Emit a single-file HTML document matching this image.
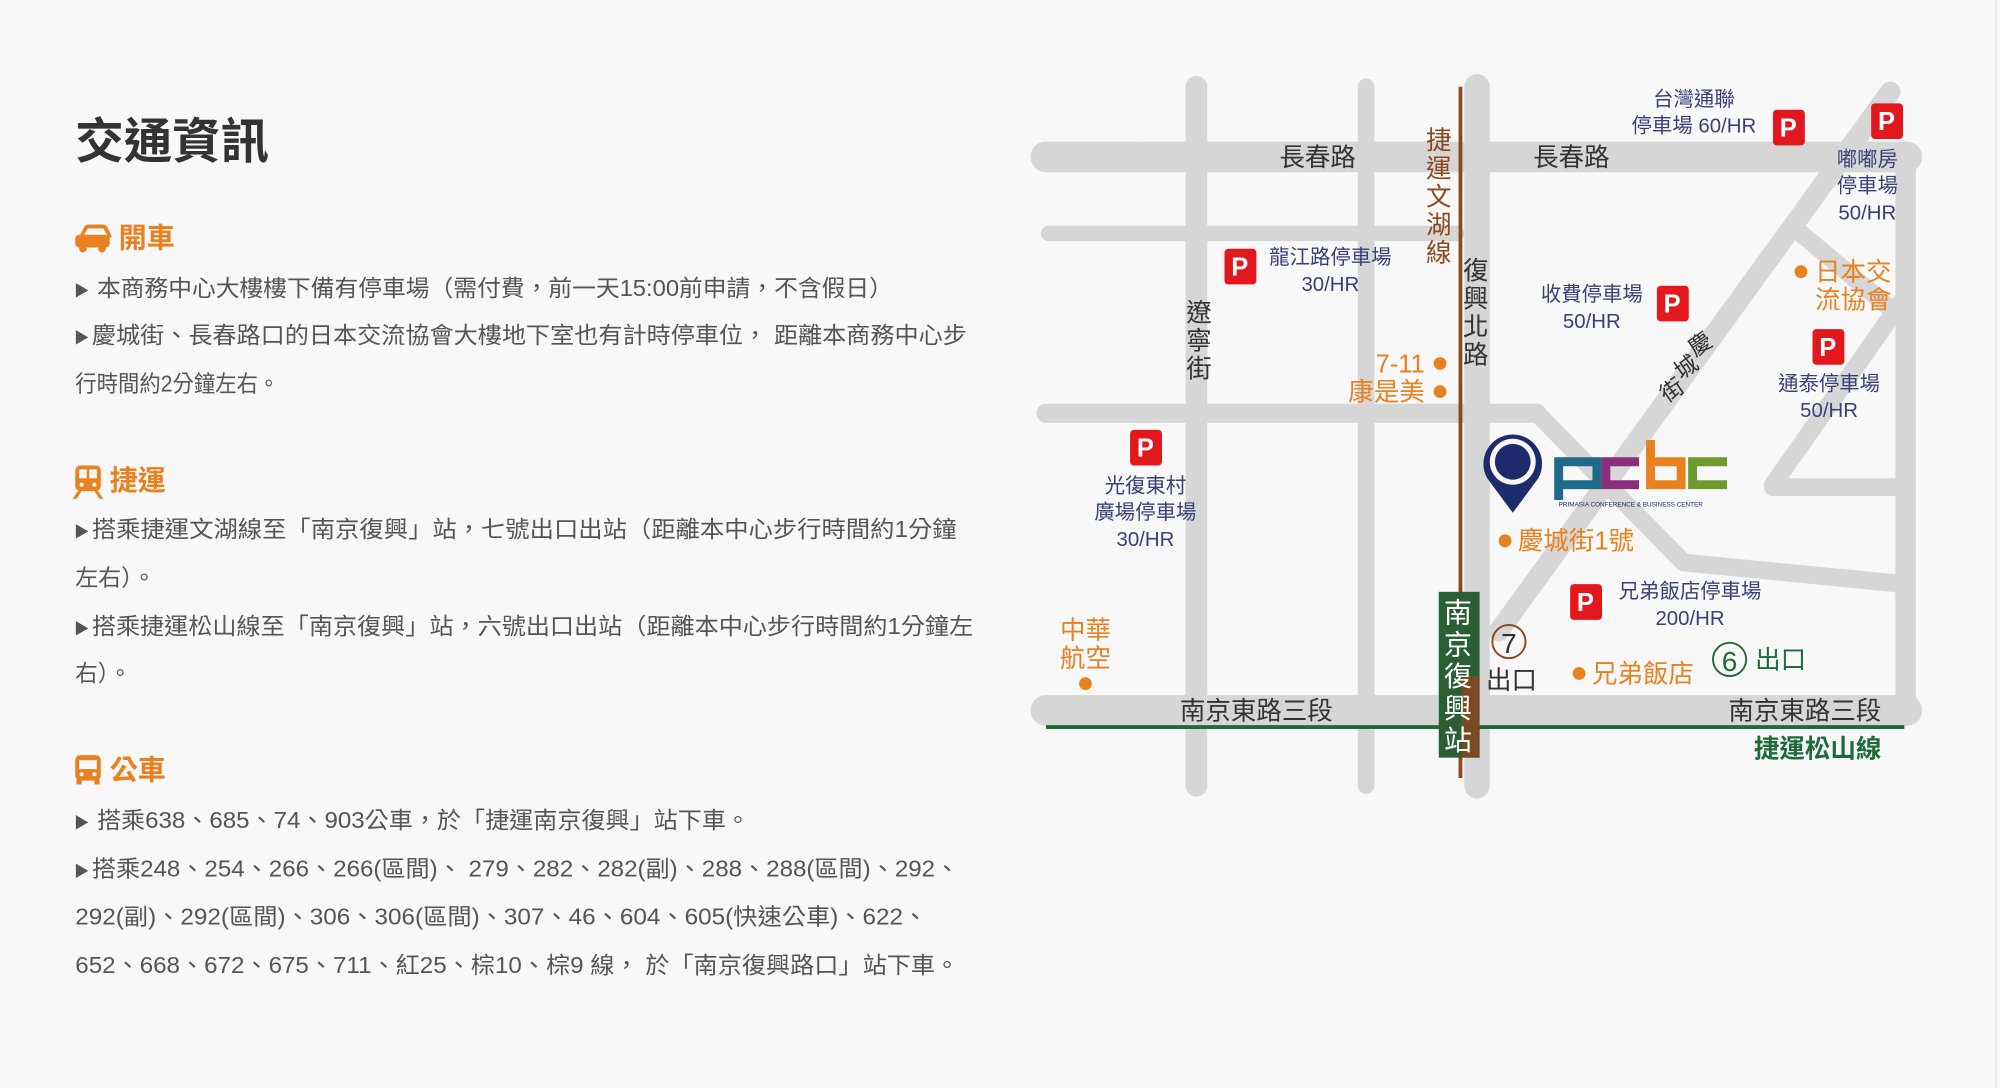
<!DOCTYPE html>
<html><head><meta charset="utf-8"><style>
html,body{margin:0;padding:0;background:#f8f8f8;}
svg{display:block;}
text{font-family:"Liberation Sans","Noto Sans CJK TC",sans-serif;}
</style></head><body>
<svg width="2000" height="1088" viewBox="0 0 1568 853" xmlns="http://www.w3.org/2000/svg">
<rect width="1568" height="853" fill="#f8f8f8"/>
<line x1="1565" y1="0" x2="1565" y2="853" stroke="#e6e6e6" stroke-width="1"/>

<text x="59" y="124" font-size="38" font-weight="bold" fill="#333">交通資訊</text>

<g fill="#e8811f">
<path d="M62 186 L66 178 Q67 176 70 176 L80 176 Q83 176 84 178 L88 186 Z"/>
<rect x="59" y="184" width="27" height="10" rx="3"/>
<circle cx="65" cy="195" r="3"/><circle cx="80" cy="195" r="3"/>
</g>
<path d="M66 184 L69 179 L81 179 L84 184 Z" fill="#f8f8f8"/>
<text x="93" y="194" font-size="22" font-weight="bold" fill="#e8811f">開車</text>

<g font-size="18" fill="#555">
<text x="58" y="232" font-size="12">▶</text>
<text x="76" y="232" textLength="624" lengthAdjust="spacingAndGlyphs">本商務中心大樓樓下備有停車場（需付費，前一天15:00前申請，不含假日）</text>
<text x="58" y="269" font-size="12">▶</text>
<text x="72" y="269" textLength="686" lengthAdjust="spacingAndGlyphs">慶城街、長春路口的日本交流協會大樓地下室也有計時停車位， 距離本商務中心步</text>
<text x="59" y="307" textLength="160" lengthAdjust="spacingAndGlyphs">行時間約2分鐘左右。</text>
</g>

<g fill="#e8811f">
<rect x="59" y="365" width="20" height="20" rx="4"/>
<path d="M61 385 L57 391 L60 391 L64 385 Z M77 385 L81 391 L78 391 L74 385 Z"/>
</g>
<rect x="62" y="368" width="6" height="7" fill="#f8f8f8"/><rect x="70" y="368" width="6" height="7" fill="#f8f8f8"/>
<circle cx="64" cy="380" r="1.6" fill="#f8f8f8"/><circle cx="74" cy="380" r="1.6" fill="#f8f8f8"/>
<text x="86" y="384" font-size="22" font-weight="bold" fill="#e8811f">捷運</text>

<g font-size="18" fill="#555">
<text x="58" y="421" font-size="12">▶</text>
<text x="72" y="421" textLength="678" lengthAdjust="spacingAndGlyphs">搭乘捷運文湖線至「南京復興」站，七號出口出站（距離本中心步行時間約1分鐘</text>
<text x="59" y="459" textLength="63" lengthAdjust="spacingAndGlyphs">左右）。</text>
<text x="58" y="497" font-size="12">▶</text>
<text x="72" y="497" textLength="691" lengthAdjust="spacingAndGlyphs">搭乘捷運松山線至「南京復興」站，六號出口出站（距離本中心步行時間約1分鐘左</text>
<text x="59" y="534" textLength="44" lengthAdjust="spacingAndGlyphs">右）。</text>
</g>

<g fill="#e8811f">
<rect x="59" y="592" width="20" height="20" rx="4"/>
<rect x="60" y="610" width="4" height="5"/><rect x="74" y="610" width="4" height="5"/>
</g>
<rect x="62" y="596" width="14" height="7" fill="#f8f8f8"/>
<circle cx="64" cy="607" r="1.6" fill="#f8f8f8"/><circle cx="74" cy="607" r="1.6" fill="#f8f8f8"/>
<text x="86" y="611" font-size="22" font-weight="bold" fill="#e8811f">公車</text>

<g font-size="18" fill="#555">
<text x="58" y="649" font-size="12">▶</text>
<text x="76" y="649" textLength="512" lengthAdjust="spacingAndGlyphs">搭乘638、685、74、903公車，於「捷運南京復興」站下車。</text>
<text x="58" y="687" font-size="12">▶</text>
<text x="72" y="687" textLength="680" lengthAdjust="spacingAndGlyphs">搭乘248、254、266、266(區間)、 279、282、282(副)、288、288(區間)、292、</text>
<text x="59" y="725" textLength="668" lengthAdjust="spacingAndGlyphs">292(副)、292(區間)、306、306(區間)、307、46、604、605(快速公車)、622、</text>
<text x="59" y="763" textLength="693" lengthAdjust="spacingAndGlyphs">652、668、672、675、711、紅25、棕10、棕9 線， 於「南京復興路口」站下車。</text>
</g>

<g stroke="#d6d6d6" stroke-linecap="round" fill="none">
<line x1="938" y1="68" x2="938" y2="616" stroke-width="17"/>
<line x1="1071" y1="68" x2="1071" y2="616" stroke-width="13"/>
<line x1="1158" y1="68" x2="1158" y2="616" stroke-width="20"/>
<line x1="820" y1="123" x2="1495" y2="123" stroke-width="24"/>
<line x1="822" y1="183" x2="1142" y2="183" stroke-width="12"/>
<line x1="820" y1="324" x2="1205" y2="324" stroke-width="15"/>
<line x1="820" y1="557" x2="1495" y2="557" stroke-width="24"/>
<line x1="1494" y1="125" x2="1494" y2="555" stroke-width="16"/>
<line x1="1482" y1="72" x2="1175" y2="495" stroke-width="16"/>
<line x1="1412" y1="183" x2="1494" y2="252" stroke-width="14"/>
<line x1="1494" y1="232" x2="1390" y2="380" stroke-width="14"/>
<line x1="1390" y1="382" x2="1494" y2="382" stroke-width="14"/>
<line x1="1205" y1="324" x2="1320" y2="441" stroke-width="14"/>
<line x1="1320" y1="441" x2="1494" y2="458" stroke-width="14"/>
</g>

<line x1="1145" y1="68" x2="1145" y2="610" stroke="#8b4a1e" stroke-width="3"/>
<line x1="820" y1="570" x2="1493" y2="570" stroke="#1e6b3a" stroke-width="3"/>

<g font-size="20" fill="#333" text-anchor="middle">
<text x="1033" y="130">長春路</text>
<text x="1232" y="130">長春路</text>
<text x="985" y="564">南京東路三段</text>
<text x="1415" y="564">南京東路三段</text>
<text x="940" y="252">遼</text><text x="940" y="274">寧</text><text x="940" y="296">街</text>
<text x="1157" y="219">復</text><text x="1157" y="241">興</text><text x="1157" y="263">北</text><text x="1157" y="285">路</text>
</g>
<g font-size="20" fill="#8b4a1e" text-anchor="middle">
<text x="1128" y="117">捷</text><text x="1128" y="139">運</text><text x="1128" y="161">文</text><text x="1128" y="183">湖</text><text x="1128" y="205">線</text>
</g>
<g font-size="18" fill="#333" text-anchor="middle">
<text x="1333" y="276" transform="rotate(-35 1333 270)">慶</text>
<text x="1322" y="294" transform="rotate(-35 1322 288)">城</text>
<text x="1311" y="312" transform="rotate(-35 1311 306)">街</text>
</g>

<rect x="1128" y="464" width="32" height="130" fill="#2a5f33"/>
<rect x="1146" y="530" width="14" height="64" fill="#7a4a22"/>
<g font-size="22" fill="#fff" text-anchor="middle">
<text x="1143" y="488">南</text><text x="1143" y="513">京</text><text x="1143" y="538">復</text><text x="1143" y="563">興</text><text x="1143" y="588">站</text>
</g>

<g fill="#e3171e">
<rect x="960" y="195" width="25" height="28" rx="3"/>
<rect x="1390" y="86" width="25" height="28" rx="3"/>
<rect x="1467" y="81" width="25" height="28" rx="3"/>
<rect x="1299" y="224" width="25" height="28" rx="3"/>
<rect x="1421" y="258" width="25" height="28" rx="3"/>
<rect x="886" y="337" width="25" height="28" rx="3"/>
<rect x="1231" y="458" width="25" height="28" rx="3"/>
</g>
<g font-size="20" fill="#fff" text-anchor="middle" font-weight="bold">
<text x="972" y="216">P</text><text x="1402" y="107">P</text><text x="1479" y="102">P</text>
<text x="1311" y="245">P</text><text x="1433" y="279">P</text><text x="898" y="358">P</text><text x="1243" y="479">P</text>
</g>

<g font-size="16" fill="#3a3f7a" text-anchor="middle">
<text x="1043" y="207">龍江路停車場</text><text x="1043" y="228">30/HR</text>
<text x="1328" y="83">台灣通聯</text><text x="1328" y="104">停車場 60/HR</text>
<text x="1464" y="130">嘟嘟房</text><text x="1464" y="151">停車場</text><text x="1464" y="172">50/HR</text>
<text x="1248" y="236">收費停車場</text><text x="1248" y="257">50/HR</text>
<text x="1434" y="306">通泰停車場</text><text x="1434" y="327">50/HR</text>
<text x="898" y="386">光復東村</text><text x="898" y="407">廣場停車場</text><text x="898" y="428">30/HR</text>
<text x="1325" y="469">兄弟飯店停車場</text><text x="1325" y="490">200/HR</text>
</g>

<g fill="#e8811f">
<circle cx="1412" cy="213" r="5"/>
<circle cx="1129" cy="285" r="5"/><circle cx="1129" cy="307" r="5"/>
<circle cx="1180" cy="424" r="5"/>
<circle cx="851" cy="536" r="5"/>
<circle cx="1238" cy="528" r="5"/>
</g>
<g font-size="20" fill="#e8811f">
<text x="1423" y="220">日本交</text><text x="1423" y="242">流協會</text>
<text x="1117" y="292" text-anchor="end">7-11</text>
<text x="1117" y="314" text-anchor="end">康是美</text>
<text x="1190" y="431">慶城街1號</text>
<text x="851" y="501" text-anchor="middle">中華</text><text x="851" y="523" text-anchor="middle">航空</text>
<text x="1248" y="535">兄弟飯店</text>
</g>

<circle cx="1183" cy="503" r="13" fill="none" stroke="#8b4a1e" stroke-width="1.5"/>
<text x="1183" y="512" font-size="22" fill="#333" text-anchor="middle">7</text>
<text x="1185" y="540" font-size="20" fill="#333" text-anchor="middle">出口</text>
<circle cx="1356" cy="517" r="13" fill="none" stroke="#1e6b3a" stroke-width="1.5"/>
<text x="1356" y="526" font-size="22" fill="#1e6b3a" text-anchor="middle">6</text>
<text x="1396" y="524" font-size="20" fill="#1e6b3a" text-anchor="middle">出口</text>
<text x="1425" y="594" font-size="20" font-weight="bold" fill="#1e6b3a" text-anchor="middle">捷運松山線</text>

<path d="M1186 402 L1166 375 A23 23 0 1 1 1206 375 Z" fill="#1d2a6b"/>
<circle cx="1186" cy="362" r="18" fill="#f8f8f8"/>
<circle cx="1186" cy="362" r="14" fill="#1d2a6b"/>
<g fill="none" stroke-width="7">
<path d="M1222 392 L1222 362 L1252 362 L1252 380 L1222 380" stroke="#1e6a8a"/>
<path d="M1285 362 L1259 362 L1259 380 L1285 380" stroke="#8c2d7e"/>
<path d="M1294 345 L1294 380 L1318 380 L1318 362 L1294 362" stroke="#e8811f"/>
<path d="M1354 362 L1327 362 L1327 380 L1354 380" stroke="#6f9a2e"/>
</g>
<text x="1222" y="397" font-size="5" fill="#1d2a6b">PRIMASIA CONFERENCE &amp; BUSINESS CENTER</text>
</svg>
</body></html>
